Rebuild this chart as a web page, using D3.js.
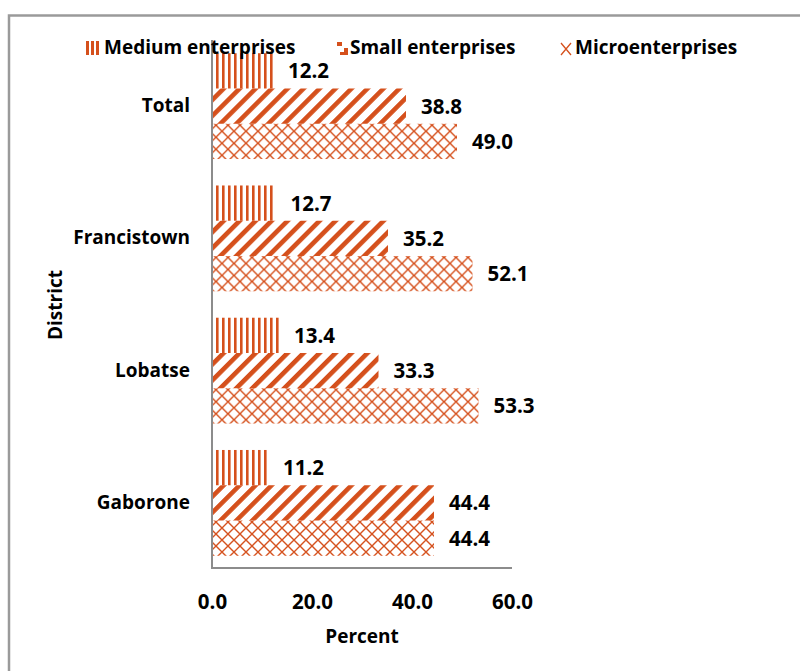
<!DOCTYPE html>
<html>
<head>
<meta charset="utf-8">
<script src="https://cdn.jsdelivr.net/npm/d3@7"></script>
<style>
  html, body { margin: 0; padding: 0; background: #fff; }
  svg { display: block; }
  text { font-family: "Open Sans", "Noto Sans", sans-serif; font-weight: bold; fill: #000; }
</style>
</head>
<body>
<svg id="chart" width="800" height="671"></svg>
<script>
// Share of enterprises by size, per district (percent)
const districts = ["Total", "Francistown", "Lobatse", "Gaborone"];
const seriesNames = ["Medium enterprises", "Small enterprises", "Microenterprises"];
const medium = [12.2, 12.7, 13.4, 11.2];
const small = [38.8, 35.2, 33.3, 44.4];
const micro = [49.0, 52.1, 53.3, 44.4];
const xTicks = [0, 20, 40, 60];

const seriesValues = [medium, small, micro];
const patternIds = ["pat-vert", "pat-diag", "pat-cross"];
const orange = "#D5501C";
const textSize = 19;
const numSize = 20.5;

const svg = d3.select("#chart");

// Hatch patterns
const defs = svg.append("defs");
const pv = defs.append("pattern").attr("id", "pat-vert")
  .attr("patternUnits", "userSpaceOnUse").attr("width", 6).attr("height", 6);
pv.append("rect").attr("x", 0).attr("y", 0).attr("width", 2.6).attr("height", 6).attr("fill", orange);

const pd = defs.append("pattern").attr("id", "pat-diag")
  .attr("patternUnits", "userSpaceOnUse").attr("width", 11.3).attr("height", 11.3)
  .attr("patternTransform", "rotate(45)");
pd.append("rect").attr("x", 0).attr("y", 0).attr("width", 4.6).attr("height", 11.3).attr("fill", orange);

const pc = defs.append("pattern").attr("id", "pat-cross")
  .attr("patternUnits", "userSpaceOnUse").attr("width", 12).attr("height", 12);
pc.append("path").attr("d", "M0,0L12,12M12,0L0,12")
  .attr("stroke", orange).attr("stroke-width", 1.4).attr("fill", "none");

// Chart frame
svg.append("rect").attr("x", 9).attr("y", 15.5).attr("width", 840).attr("height", 720)
  .attr("fill", "none").attr("stroke", "#9a9a9a").attr("stroke-width", 2.5);

// Scales
const x = d3.scaleLinear().domain([0, 60]).range([212, 512]);
const y = d3.scaleBand().domain(districts).range([40, 569])
  .paddingInner(0.2).paddingOuter(0.1);
const ySub = d3.scaleBand().domain(d3.range(seriesNames.length)).range([0, y.bandwidth()]);

// Bars
const groups = svg.append("g").selectAll("g").data(districts).join("g")
  .attr("transform", d => `translate(0,${y(d)})`);

seriesNames.forEach((name, si) => {
  groups.append("rect")
    .attr("x", x(0))
    .attr("y", ySub(si))
    .attr("width", (d, i) => x(seriesValues[si][i]) - x(0))
    .attr("height", ySub.bandwidth())
    .attr("fill", `url(#${patternIds[si]})`);
  groups.append("text")
    .attr("x", (d, i) => x(seriesValues[si][i]) + 15)
    .attr("y", ySub(si) + ySub.bandwidth() / 2 + 2)
    .attr("dominant-baseline", "middle")
    .attr("font-size", numSize)
    .text((d, i) => seriesValues[si][i].toFixed(1));
});

// Axis lines
svg.append("line").attr("x1", x(0)).attr("x2", x(0)).attr("y1", 40).attr("y2", 569)
  .attr("stroke", "#8c8c8c").attr("stroke-width", 2);
svg.append("line").attr("x1", x(0) - 1).attr("x2", x(60)).attr("y1", 568).attr("y2", 568)
  .attr("stroke", "#8c8c8c").attr("stroke-width", 2);

// X tick labels
const xAxis = d3.axisBottom(x).tickValues(xTicks).tickFormat(d3.format(".1f")).tickSize(0).tickPadding(0);
const gx = svg.append("g").attr("transform", "translate(0,594)").call(xAxis);
gx.select(".domain").remove();
gx.selectAll("text").attr("font-size", numSize).attr("font-family", "Open Sans").attr("font-weight", "bold").attr("fill", "#000");

// Category labels
const yAxis = d3.axisLeft(y).tickSize(0).tickPadding(0);
const gy = svg.append("g").attr("transform", "translate(190,0)").call(yAxis);
gy.select(".domain").remove();
gy.selectAll("text").attr("font-size", textSize).attr("font-family", "Open Sans").attr("font-weight", "bold").attr("fill", "#000");

// Axis titles
svg.append("text").attr("x", 362).attr("y", 643).attr("text-anchor", "middle")
  .attr("font-size", textSize).text("Percent");
svg.append("text").attr("transform", "translate(62,305) rotate(-90)").attr("text-anchor", "middle")
  .attr("font-size", textSize).text("District");

// Legend
const legendItems = [
  { x: 86, tx: 104 },
  { x: 337, tx: 350 },
  { x: 561, tx: 575 }
];
const legend = svg.append("g");
seriesNames.forEach((name, si) => {
  const it = legendItems[si];
  if (si === 0) {
    [0, 5, 10].forEach(dx => legend.append("rect")
      .attr("x", it.x + dx).attr("y", 41).attr("width", 3).attr("height", 14).attr("fill", orange));
  } else if (si === 1) {
    legend.append("path").attr("d", `M${it.x},${42}h5v4h-5z M${it.x + 7},${48}h4v7h-8v-3h4z`)
      .attr("fill", orange);
  } else {
    legend.append("path").attr("d", `M${it.x},${43}L${it.x + 10},${55}M${it.x + 10},${43}L${it.x},${55}`)
      .attr("stroke", orange).attr("stroke-width", 1.3).attr("fill", "none");
  }
  legend.append("text").attr("x", it.tx).attr("y", 49).attr("dominant-baseline", "middle")
    .attr("font-size", textSize).text(name);
});
</script>
</body>
</html>
